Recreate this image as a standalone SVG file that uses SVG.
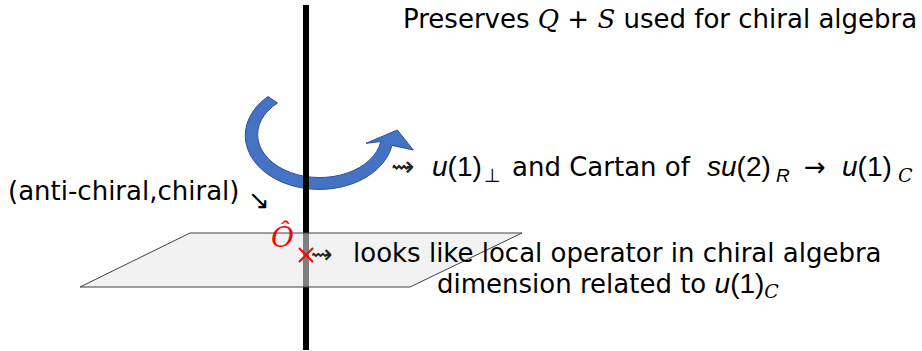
<svg xmlns="http://www.w3.org/2000/svg" width="922" height="351" viewBox="0 0 922 351">
<style>
.t{font-family:"DejaVu Sans","Liberation Sans",sans-serif;font-size:26px;fill:#000}
.m{font-family:"Liberation Sans","DejaVu Sans",sans-serif;font-size:28px}
.it{font-style:italic}
.cal{font-family:"DejaVu Serif","Liberation Serif",serif;font-style:italic}
.sub{font-size:19px}
.sq{font-family:"DejaVu Sans",sans-serif;fill:#222}
</style>
<rect width="922" height="351" fill="#fff"/>
<g id="rotation-arrow">
<path d="M268,96.5 A74,54 0 1 0 392,145.4 L413.3,150 L397.3,130 L366,143.3 L380.8,141.6 A62,43 0 1 1 277.5,103 Z" fill="#4472c4" stroke="#2f528f" stroke-width="1"/>
</g>
<g id="axis">
<rect x="303" y="5" width="6" height="345" fill="#000"/>
</g>
<g id="plane">
<polygon points="190,233 522,233 410,287 80,287" fill="#e7e7e7" fill-opacity="0.55" stroke="#404040" stroke-width="1"/>
</g>
<g id="label-top">
<text class="t" x="403" y="28">Preserves <tspan class="cal">Q</tspan> + <tspan class="cal">S</tspan> used for chiral algebra</text>
</g>
<g id="label-rotation">
<text class="t" y="176"><tspan class="sq" x="391" font-size="28">⇝</tspan><tspan class="m" x="432"><tspan class="it">u</tspan>(1)</tspan><tspan class="sub" x="484" dy="6">⊥</tspan><tspan x="512" dy="-6">and Cartan of</tspan><tspan class="m" x="707"><tspan class="it">su</tspan>(2)</tspan><tspan class="m sub it" x="776" dy="6">R</tspan><tspan x="804" dy="-6">→</tspan><tspan class="m" x="842"><tspan class="it">u</tspan>(1)</tspan><tspan class="sub cal" x="898" dy="6">C</tspan></text>
</g>
<g id="label-chirality">
<text class="t" x="8" y="200">(anti-chiral,chiral)</text>
<text class="t" x="248" y="209" font-size="28">↘</text>
</g>
<g id="operator">
<text x="271" y="247" font-family="DejaVu Serif, Liberation Serif, serif" font-style="italic" font-size="28" fill="#ff0000">Ô</text>
<path d="M299,248 L313,262 M313,248 L299,262" stroke="#ff0000" stroke-width="2"/>
</g>
<g id="label-operator">
<text class="t sq" x="311" y="263" font-size="28">⇝</text>
<text class="t" x="353" y="262">looks like local operator in chiral algebra</text>
<text class="t" x="437" y="293">dimension related to <tspan class="m it">u</tspan><tspan class="m">(1)</tspan><tspan class="sub cal" dy="5">C</tspan></text>
</g>
</svg>
